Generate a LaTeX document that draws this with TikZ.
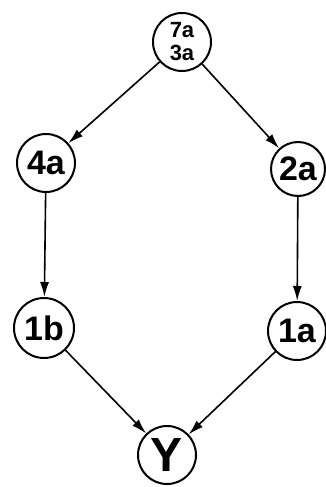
\documentclass[tikz,border=0pt]{standalone}
\usepackage{fontspec}
\setmainfont{Liberation Sans}
\usetikzlibrary{arrows.meta}
\begin{document}
\begin{tikzpicture}[x=1pt,y=-1pt,
  state/.style={circle,draw,line width=2pt,minimum size=58pt,inner sep=0pt,font=\fontsize{34}{34}\selectfont\bfseries},
  edge/.style={line width=1.6pt,-{Latex[length=15pt,width=9pt]}}]
\useasboundingbox (0,0) rectangle (325,487);
\node[state,font=\fontsize{22}{23}\selectfont\bfseries,align=center] (t) at (182,42) {7a\\3a};
\node[state] (a4) at (46,163) {4a};
\node[state,minimum size=54pt] (a2) at (298,169) {2a};
\node[state,minimum size=60pt] (b1) at (44,328) {1b};
\node[state] (a1) at (297,331) {1a};
\node[state,font=\fontsize{48}{48}\selectfont\bfseries] (y) at (167,455) {Y};
\draw[edge] (t) -- (a4);
\draw[edge] (t) -- (a2);
\draw[edge] (a4) -- (b1);
\draw[edge] (a2) -- (a1);
\draw[edge] (b1) -- (y);
\draw[edge] (a1) -- (y);
\end{tikzpicture}
\end{document}
